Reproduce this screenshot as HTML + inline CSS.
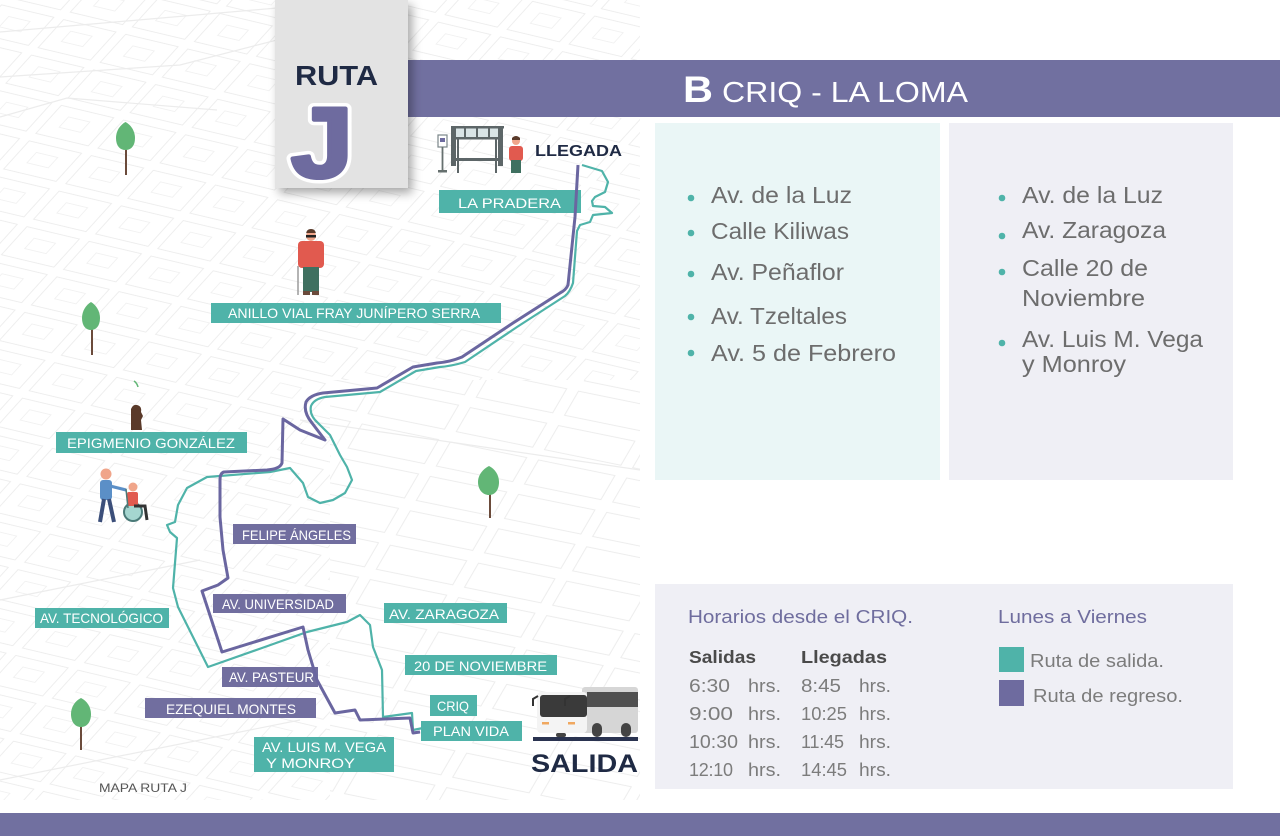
<!DOCTYPE html>
<html>
<head>
<meta charset="utf-8">
<style>
html,body{margin:0;padding:0;background:#fff;}
body{width:1280px;height:836px;overflow:hidden;position:relative;}
svg{position:absolute;left:0;top:0;display:block;}
text{font-family:"Liberation Sans",sans-serif;}
</style>
</head>
<body>
<svg width="1280" height="836" viewBox="0 0 1280 836" xmlns="http://www.w3.org/2000/svg">
<defs>
  <pattern id="blk" width="64" height="48" patternUnits="userSpaceOnUse" patternTransform="matrix(0.97 0.23 -0.67 0.74 0 0)">
    <rect x="5" y="5" width="54" height="38" fill="none" stroke="#ededed" stroke-width="1.1"/>
    <rect x="20" y="16" width="22" height="14" fill="none" stroke="#f1f1f1" stroke-width="1"/>
  </pattern>
  <pattern id="blk2" width="90" height="40" patternUnits="userSpaceOnUse" patternTransform="matrix(0.98 0.2 -0.5 0.86 10 0)">
    <rect x="6" y="6" width="78" height="28" fill="none" stroke="#ededed" stroke-width="1.1"/>
  </pattern>
  <clipPath id="mapclip"><rect x="0" y="0" width="640" height="800"/></clipPath>
  <filter id="sh" x="-20%" y="-20%" width="150%" height="150%">
    <feDropShadow dx="4" dy="5" stdDeviation="5" flood-color="#000" flood-opacity="0.35"/>
  </filter>
</defs>

<!-- map background texture -->
<g clip-path="url(#mapclip)">
  <rect x="0" y="0" width="640" height="800" fill="url(#blk)"/>
  <rect x="330" y="380" width="310" height="420" fill="#fff"/>
  <rect x="330" y="380" width="310" height="420" fill="url(#blk2)"/>
  <g stroke="#ececec" stroke-width="1.2" fill="none">
    <path d="M0,32 L277,8"/>
    <path d="M0,77 L180,65 L277,40"/>
    <path d="M0,117 L67,98 L217,110"/>
    <path d="M300,420 L640,470"/>
    <path d="M0,600 L200,560"/>
    <path d="M0,780 L300,720"/>
    <path d="M420,60 L640,100"/>
  </g>
</g>

<!-- header bar -->
<rect x="408" y="60" width="872" height="57" fill="#7170a0"/>
<text x="683" y="102" font-size="37" font-weight="bold" fill="#fff" textLength="30" lengthAdjust="spacingAndGlyphs">B</text>
<text x="722" y="102" font-size="29" fill="#fff" textLength="246" lengthAdjust="spacingAndGlyphs">CRIQ - LA LOMA</text>

<!-- ruta box -->
<rect x="275" y="0" width="133" height="188" fill="#e3e3e3" filter="url(#sh)"/>
<rect x="275" y="0" width="133" height="188" fill="#e3e3e3"/>
<text x="295" y="85" font-size="28" font-weight="bold" fill="#1f2a44" textLength="83" lengthAdjust="spacingAndGlyphs">RUTA</text>
<text x="291" y="177" font-size="99" font-weight="bold" fill="#6e6b9f" stroke="#fff" stroke-width="11" paint-order="stroke" stroke-linejoin="round" textLength="62" lengthAdjust="spacingAndGlyphs">J</text>
<text x="291" y="177" font-size="99" font-weight="bold" fill="#6e6b9f" stroke="#6e6b9f" stroke-width="4" stroke-linejoin="round" textLength="62" lengthAdjust="spacingAndGlyphs">J</text>

<!-- panels -->
<rect x="655" y="123" width="285" height="357" fill="#eaf6f6"/>
<rect x="949" y="123" width="284" height="357" fill="#efeff5"/>
<rect x="655" y="584" width="578" height="205" fill="#efeff5"/>
<rect x="0" y="813" width="1280" height="23" fill="#7170a0"/>

<!-- lists -->
<g fill="#4fb3a9">
  <circle cx="691" cy="198" r="3.3"/><circle cx="691" cy="233" r="3.3"/><circle cx="691" cy="274" r="3.3"/><circle cx="691" cy="317" r="3.3"/><circle cx="691" cy="353" r="3.3"/>
  <circle cx="1002" cy="198" r="3.3"/><circle cx="1002" cy="236" r="3.3"/><circle cx="1002" cy="272" r="3.3"/><circle cx="1002" cy="343" r="3.3"/>
</g>
<g font-size="23" fill="#6d6d6d">
  <text x="711" y="203" textLength="141" lengthAdjust="spacingAndGlyphs">Av. de la Luz</text>
  <text x="711" y="239" textLength="138" lengthAdjust="spacingAndGlyphs">Calle Kiliwas</text>
  <text x="711" y="280" textLength="133" lengthAdjust="spacingAndGlyphs">Av. Peñaflor</text>
  <text x="711" y="324" textLength="136" lengthAdjust="spacingAndGlyphs">Av. Tzeltales</text>
  <text x="711" y="361" textLength="185" lengthAdjust="spacingAndGlyphs">Av. 5 de Febrero</text>
  <text x="1022" y="203" textLength="141" lengthAdjust="spacingAndGlyphs">Av. de la Luz</text>
  <text x="1022" y="238" textLength="144" lengthAdjust="spacingAndGlyphs">Av. Zaragoza</text>
  <text x="1022" y="276" textLength="126" lengthAdjust="spacingAndGlyphs">Calle 20 de</text>
  <text x="1022" y="306" textLength="123" lengthAdjust="spacingAndGlyphs">Noviembre</text>
  <text x="1022" y="347" textLength="181" lengthAdjust="spacingAndGlyphs">Av. Luis M. Vega</text>
  <text x="1022" y="372" textLength="104" lengthAdjust="spacingAndGlyphs">y Monroy</text>
</g>

<!-- schedule -->
<text x="688" y="623" font-size="18.5" fill="#6f6d9e" textLength="225" lengthAdjust="spacingAndGlyphs">Horarios desde el CRIQ.</text>
<text x="998" y="623" font-size="18.5" fill="#6f6d9e" textLength="149" lengthAdjust="spacingAndGlyphs">Lunes a Viernes</text>
<text x="689" y="663" font-size="17.5" font-weight="bold" fill="#4a4a4a" textLength="67" lengthAdjust="spacingAndGlyphs">Salidas</text>
<text x="801" y="663" font-size="17.5" font-weight="bold" fill="#4a4a4a" textLength="86" lengthAdjust="spacingAndGlyphs">Llegadas</text>
<g font-size="18" fill="#7c7c7c">
  <text x="689" y="692" textLength="41" lengthAdjust="spacingAndGlyphs">6:30</text>
  <text x="748" y="692" textLength="33" lengthAdjust="spacingAndGlyphs">hrs.</text>
  <text x="801" y="692" textLength="40" lengthAdjust="spacingAndGlyphs">8:45</text>
  <text x="859" y="692" textLength="32" lengthAdjust="spacingAndGlyphs">hrs.</text>
  <text x="689" y="720" textLength="44" lengthAdjust="spacingAndGlyphs">9:00</text>
  <text x="748" y="720" textLength="33" lengthAdjust="spacingAndGlyphs">hrs.</text>
  <text x="801" y="720" textLength="46" lengthAdjust="spacingAndGlyphs">10:25</text>
  <text x="859" y="720" textLength="32" lengthAdjust="spacingAndGlyphs">hrs.</text>
  <text x="689" y="748" textLength="49" lengthAdjust="spacingAndGlyphs">10:30</text>
  <text x="748" y="748" textLength="33" lengthAdjust="spacingAndGlyphs">hrs.</text>
  <text x="801" y="748" textLength="43" lengthAdjust="spacing">11:45</text>
  <text x="859" y="748" textLength="32" lengthAdjust="spacingAndGlyphs">hrs.</text>
  <text x="689" y="776" textLength="44" lengthAdjust="spacing">12:10</text>
  <text x="748" y="776" textLength="33" lengthAdjust="spacingAndGlyphs">hrs.</text>
  <text x="801" y="776" textLength="46" lengthAdjust="spacingAndGlyphs">14:45</text>
  <text x="859" y="776" textLength="32" lengthAdjust="spacingAndGlyphs">hrs.</text>
</g>
<rect x="999" y="647" width="25" height="25" fill="#4fb3a9"/>
<rect x="999" y="680" width="25" height="26" fill="#6e6b9f"/>
<text x="1030" y="667" font-size="18" fill="#7c7c7c" textLength="134" lengthAdjust="spacingAndGlyphs">Ruta de salida.</text>
<text x="1033" y="702" font-size="18" fill="#7c7c7c" textLength="150" lengthAdjust="spacingAndGlyphs">Ruta de regreso.</text>

<!-- trees -->
<g>
  <line x1="126" y1="140" x2="126" y2="175" stroke="#6b4b3b" stroke-width="2"/>
  <path d="M125.5,122 C131,125 135,131 135,138 C135,146 131,150 125.5,150 C120,150 116,146 116,138 C116,131 120,125 125.5,122 Z" fill="#62b676"/>
  <line x1="92" y1="320" x2="92" y2="355" stroke="#6b4b3b" stroke-width="2"/>
  <path d="M91,302 C96,305 100,311 100,318 C100,326 96,330 91,330 C86,330 82,326 82,318 C82,311 86,305 91,302 Z" fill="#62b676"/>
  <line x1="490" y1="484" x2="490" y2="518" stroke="#6b4b3b" stroke-width="2"/>
  <path d="M489,466 C495,469 499,475 499,482 C499,490 495,495 489,495 C483,495 478,490 478,482 C478,475 483,469 489,466 Z" fill="#62b676"/>
  <line x1="81" y1="716" x2="81" y2="750" stroke="#6b4b3b" stroke-width="2"/>
  <path d="M81,698 C87,701 91,707 91,714 C91,722 87,727 81,727 C75,727 71,722 71,714 C71,707 75,701 81,698 Z" fill="#62b676"/>
</g>

<!-- bus stop (llegada) -->
<g>
  <rect x="438" y="135" width="9" height="12" fill="#fff" stroke="#7a8688" stroke-width="1.2"/>
  <rect x="440" y="138" width="5" height="4" fill="#6e6b9f"/>
  <line x1="442.5" y1="147" x2="442.5" y2="171" stroke="#66706f" stroke-width="1.8"/>
  <rect x="438" y="170" width="9" height="2.5" fill="#66706f"/>
  <rect x="453" y="128" width="48" height="10" fill="#d9e4e6"/>
  <rect x="451" y="126" width="53" height="2.5" fill="#5d6668"/>
  <g fill="#5d6668">
    <rect x="464" y="127" width="2" height="10"/><rect x="476" y="127" width="2" height="10"/><rect x="488" y="127" width="2" height="10"/>
    <rect x="451" y="126" width="5" height="40"/><rect x="498" y="126" width="5" height="40"/>
    <rect x="457" y="137" width="2" height="36"/><rect x="495" y="137" width="2" height="36"/>
    <rect x="455" y="137" width="44" height="2.5"/>
    <rect x="455" y="158" width="44" height="3"/>
  </g>
  <circle cx="516" cy="141" r="4" fill="#f0a58a"/>
  <path d="M512,138 Q516,134 520,138 L520,140 L512,140 Z" fill="#5a3a2a"/>
  <rect x="509" y="146" width="14" height="15" rx="3" fill="#e15a4f"/>
  <rect x="511" y="160" width="10" height="13" fill="#3f7060"/>
</g>
<text x="535" y="156" font-size="16" font-weight="bold" fill="#1f2a44" textLength="87" lengthAdjust="spacingAndGlyphs">LLEGADA</text>

<!-- person with cane -->
<g>
  <circle cx="311" cy="236" r="5" fill="#f0a58a"/>
  <path d="M306,235 Q306,229 311,229 Q316,229 316,235 L316,233 L306,233 Z" fill="#5a3a2a"/>
  <rect x="306" y="235" width="10" height="2.5" fill="#222"/>
  <rect x="298" y="241" width="26" height="27" rx="4" fill="#e15a4f"/>
  <rect x="303" y="267" width="16" height="25" fill="#3f7060"/>
  <rect x="303" y="291" width="7" height="4" fill="#6b4b3b"/>
  <rect x="312" y="291" width="7" height="4" fill="#6b4b3b"/>
  <line x1="298" y1="266" x2="298" y2="295" stroke="#9a9a9a" stroke-width="1.5"/>
</g>

<!-- statue -->
<g>
  <path d="M131,430 L131,409 Q133,404 137,405 Q142,406 141,412 L143,416 L141,420 L142,430 Z" fill="#5a3a2a"/>
  <path d="M134,381 Q137,383 138,387" stroke="#62b676" stroke-width="1.5" fill="none"/>
</g>

<!-- wheelchair group -->
<g>
  <circle cx="106" cy="474" r="5.5" fill="#f0a58a"/>
  <rect x="100" y="480" width="12" height="20" rx="3" fill="#5b8fc7"/>
  <line x1="110" y1="486" x2="126" y2="490" stroke="#5b8fc7" stroke-width="3"/>
  <line x1="104" y1="499" x2="100" y2="522" stroke="#3c4f7a" stroke-width="4"/>
  <line x1="109" y1="499" x2="114" y2="522" stroke="#3c4f7a" stroke-width="4"/>
  <circle cx="133" cy="512" r="9" fill="#a5d6d0" stroke="#4a7a78" stroke-width="2"/>
  <circle cx="133" cy="487" r="4.5" fill="#f0a58a"/>
  <rect x="127" y="492" width="11" height="14" rx="2" fill="#e15a4f"/>
  <path d="M134,506 L145,506 L147,520" stroke="#333" stroke-width="3" fill="none"/>
  <line x1="126" y1="489" x2="128" y2="508" stroke="#4a7a78" stroke-width="1.5"/>
</g>

<!-- bus -->
<g>
  <rect x="582" y="687" width="56" height="46" rx="3" fill="#d6d6d6"/>
  <rect x="587" y="692" width="51" height="15" fill="#505050"/>
  <rect x="537" y="692" width="50" height="41" rx="4" fill="#f4f4f4"/>
  <rect x="540" y="695" width="47" height="22" rx="3" fill="#3a3a3a"/>
  <rect x="542" y="722" width="7" height="2.5" fill="#f0a860"/>
  <rect x="568" y="722" width="7" height="2.5" fill="#f0a860"/>
  <path d="M533,706 L533,699 L538,696" stroke="#333" stroke-width="2" fill="none"/>
  <path d="M565,706 L565,699 L570,696" stroke="#333" stroke-width="2" fill="none"/>
  <rect x="592" y="723" width="10" height="14" rx="5" fill="#444"/>
  <rect x="621" y="723" width="10" height="14" rx="5" fill="#444"/>
  <rect x="556" y="733" width="10" height="4" rx="2" fill="#444"/>
  <rect x="533" y="737" width="105" height="4" fill="#2a3350"/>
</g>
<text x="531" y="772" font-size="25" font-weight="bold" fill="#1f2a44" textLength="107" lengthAdjust="spacingAndGlyphs">SALIDA</text>
<text x="99" y="792" font-size="12" fill="#555" textLength="88" lengthAdjust="spacingAndGlyphs">MAPA RUTA J</text>

<!-- labels -->
<g font-size="14" fill="#fff">
  <rect x="439" y="190" width="142" height="23" fill="#4fb3a9"/>
  <text x="458" y="208" textLength="103" lengthAdjust="spacingAndGlyphs">LA PRADERA</text>
  <rect x="211" y="303" width="290" height="20" fill="#4fb3a9"/>
  <text x="228" y="318" textLength="252" lengthAdjust="spacingAndGlyphs">ANILLO VIAL FRAY JUNÍPERO SERRA</text>
  <rect x="56" y="432" width="191" height="21" fill="#4fb3a9"/>
  <text x="67" y="448" textLength="168" lengthAdjust="spacingAndGlyphs">EPIGMENIO GONZÁLEZ</text>
  <rect x="233" y="524" width="123" height="20" fill="#716e9f"/>
  <text x="242" y="540" textLength="109" lengthAdjust="spacingAndGlyphs">FELIPE ÁNGELES</text>
  <rect x="213" y="594" width="133" height="19" fill="#716e9f"/>
  <text x="222" y="609" textLength="112" lengthAdjust="spacingAndGlyphs">AV. UNIVERSIDAD</text>
  <rect x="35" y="608" width="134" height="20" fill="#4fb3a9"/>
  <text x="40" y="623" textLength="123" lengthAdjust="spacingAndGlyphs">AV. TECNOLÓGICO</text>
  <rect x="384" y="603" width="123" height="20" fill="#4fb3a9"/>
  <text x="389" y="619" textLength="110" lengthAdjust="spacingAndGlyphs">AV. ZARAGOZA</text>
  <rect x="405" y="655" width="152" height="20" fill="#4fb3a9"/>
  <text x="414" y="671" textLength="133" lengthAdjust="spacingAndGlyphs">20 DE NOVIEMBRE</text>
  <rect x="222" y="667" width="96" height="20" fill="#716e9f"/>
  <text x="229" y="682" textLength="85" lengthAdjust="spacingAndGlyphs">AV. PASTEUR</text>
  <rect x="145" y="698" width="171" height="20" fill="#716e9f"/>
  <text x="166" y="714" textLength="130" lengthAdjust="spacingAndGlyphs">EZEQUIEL MONTES</text>
  <rect x="430" y="695" width="47" height="21" fill="#4fb3a9"/>
  <text x="437" y="711" textLength="32" lengthAdjust="spacingAndGlyphs">CRIQ</text>
  <rect x="421" y="721" width="101" height="20" fill="#4fb3a9"/>
  <text x="433" y="736" textLength="76" lengthAdjust="spacingAndGlyphs">PLAN VIDA</text>
  <rect x="254" y="737" width="140" height="35" fill="#4fb3a9"/>
  <text x="262" y="752" textLength="124" lengthAdjust="spacingAndGlyphs">AV. LUIS M. VEGA</text>
  <text x="266" y="768" textLength="89" lengthAdjust="spacingAndGlyphs">Y MONROY</text>
</g>

<!-- routes -->
<path d="M582,165 L602,171 L608,182 L605,192 L595,197 L592,201 L593,206 L605,207 L612,213 L593,215 L590,222 L580,225 L577,231 L573,283 Q570,292 565,296 L517,327 L465,362 Q452,366 440,367 L416,371 L380,392 L325,397 Q314,399 311,406 Q309,415 318,423 L330,435 L340,455 L347,467 L352,480 L345,493 L333,500 L320,503 L308,497 L303,483 L290,468 L270,472 L207,477 L187,488 L178,505 L175,522 L167,525 L170,532 L177,538 L173,588 L178,607 L208,667 L262,648 L307,632 L347,622 L360,615 L370,625 L373,647 L382,670 L383,717 L412,713 L413,730 L423,728" fill="none" stroke="#4fb3a9" stroke-width="2.2" stroke-linejoin="round"/>
<path d="M578,165 L575,217 L568,285 Q566,290 560,293 L513,323 L462,357 Q450,362 437,363 L413,367 L377,388 L323,393 Q310,395 306,402 Q303,412 312,423 L325,440 L300,430 L283,419 L282,463 Q280,469 267,470 L224,472 Q220,473 220,480 L220,517 L223,550 L228,578 L218,585 L202,591 L222,652 L303,627 L308,650 L317,680 L335,713 L355,710 L360,720 L410,718 L413,733 L420,732" fill="none" stroke="#6a66a0" stroke-width="3" stroke-linejoin="round"/>
</svg>
</body>
</html>
